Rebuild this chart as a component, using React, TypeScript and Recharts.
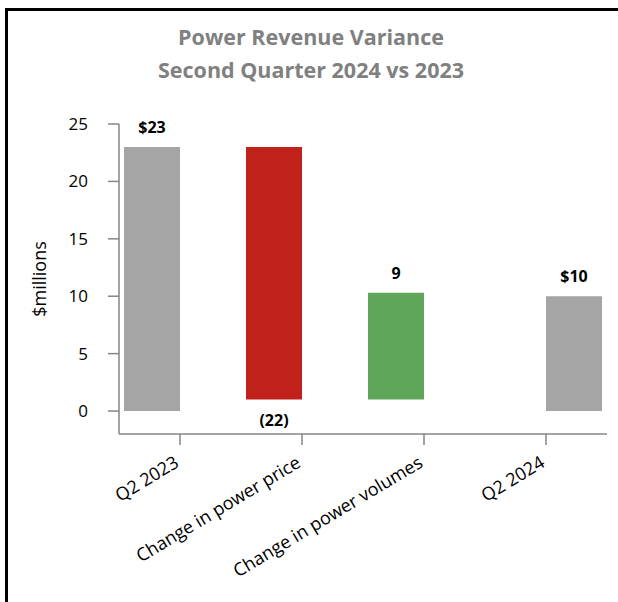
import React from 'react';
import { BarChart, Bar, XAxis, YAxis, Cell } from 'recharts';

const categories = ['Q2 2023', 'Change in power price', 'Change in power volumes', 'Q2 2024'];
// waterfall pieces: invisible base + visible step (left bar), end total (right bar)
const baseValues = [0, 1, 1, 0];
const stepValues = [23, 22, 9.3, 0];
const endValues = [0, 0, 0, 10];
const labelTexts = ['$23', '(22)', '9', '$10'];
const stepColors = ['#A5A5A5', '#C0211A', '#5FA55A', '#A5A5A5'];
const yTicks = [0, 5, 10, 15, 20, 25];

const data = categories.map((name, i) => ({
  name,
  base: baseValues[i],
  step: stepValues[i],
  end: endValues[i],
}));

const FONT = '"Open Sans", Lato, sans-serif';
const AXIS = '#868686';

const CategoryTick = (props: any) => {
  const { x, payload } = props;
  const y = 466;
  return (
    <text x={x} y={y} textAnchor="end" fontSize={18} fontFamily={FONT} fill="#000"
      transform={`rotate(-31, ${x}, ${y})`}>
      {payload.value}
    </text>
  );
};

const stepLabel = (props: any) => {
  const { x, y, width, height, index } = props;
  if (!stepValues[index]) return null;
  const below = index === 1;
  const ty = below ? y + height + 26 : y - 14;
  return (
    <text x={x + width / 2} y={ty} textAnchor="middle" fontSize={16} fontWeight="bold"
      fontFamily={FONT} fill="#000">{labelTexts[index]}</text>
  );
};

const endLabel = (props: any) => {
  const { x, y, width, value } = props;
  if (!value) return null;
  return (
    <text x={x + width / 2} y={y - 14} textAnchor="middle" fontSize={16} fontWeight="bold"
      fontFamily={FONT} fill="#000">{labelTexts[labelTexts.length - 1]}</text>
  );
};

const yLabel = (props: any) => {
  const vb = props.viewBox;
  const cx = vb.x + 20;
  const cy = vb.y + vb.height / 2;
  return (
    <text x={cx} y={cy} textAnchor="middle" dominantBaseline="central" fontSize={18}
      fontFamily={FONT} fill="#000" transform={`rotate(-90, ${cx}, ${cy})`}>$millions</text>
  );
};

export default function App() {
  return (
    <div style={{ position: 'absolute', left: 0, top: 0, width: 618, height: 602, background: '#fff', overflow: 'hidden' }}>
      <div style={{ position: 'absolute', left: 5, top: 8, width: 700, height: 700, borderTop: '3px solid #000', borderLeft: '3px solid #000' }} />
      <div style={{ position: 'absolute', left: 0, top: 20, width: 622, textAlign: 'center', fontFamily: FONT, fontWeight: 'bold', fontSize: 21.5, lineHeight: '33px', color: '#808080' }}>
        Power Revenue Variance<br />Second Quarter 2024 vs 2023
      </div>
      <div style={{ position: 'absolute', left: 0, top: 0 }}>
        <BarChart width={618} height={602} data={data} barCategoryGap={5} barGap={0}
          margin={{ top: 124, right: 11, bottom: 0, left: 19 }}>
          <XAxis dataKey="name" height={168} interval={0} tickSize={11} tick={<CategoryTick />}
            axisLine={{ stroke: AXIS, strokeWidth: 1.5 }} tickLine={{ stroke: AXIS, strokeWidth: 1.5 }} />
          <YAxis type="number" width={100} domain={[-2, 25]} ticks={yTicks} tickSize={11} tickMargin={20}
            allowDataOverflow
            tick={{ fontSize: 17, fontFamily: FONT, fill: '#000' }}
            axisLine={{ stroke: AXIS, strokeWidth: 1.5 }} tickLine={{ stroke: AXIS, strokeWidth: 1.5 }}
            label={yLabel} />
          <Bar dataKey="base" stackId="a" fill="transparent" isAnimationActive={false} />
          <Bar dataKey="step" stackId="a" isAnimationActive={false} label={stepLabel}>
            {stepColors.map((c, i) => <Cell key={i} fill={c} />)}
          </Bar>
          <Bar dataKey="end" stackId="b" fill="#A5A5A5" isAnimationActive={false} label={endLabel} />
        </BarChart>
      </div>
    </div>
  );
}
